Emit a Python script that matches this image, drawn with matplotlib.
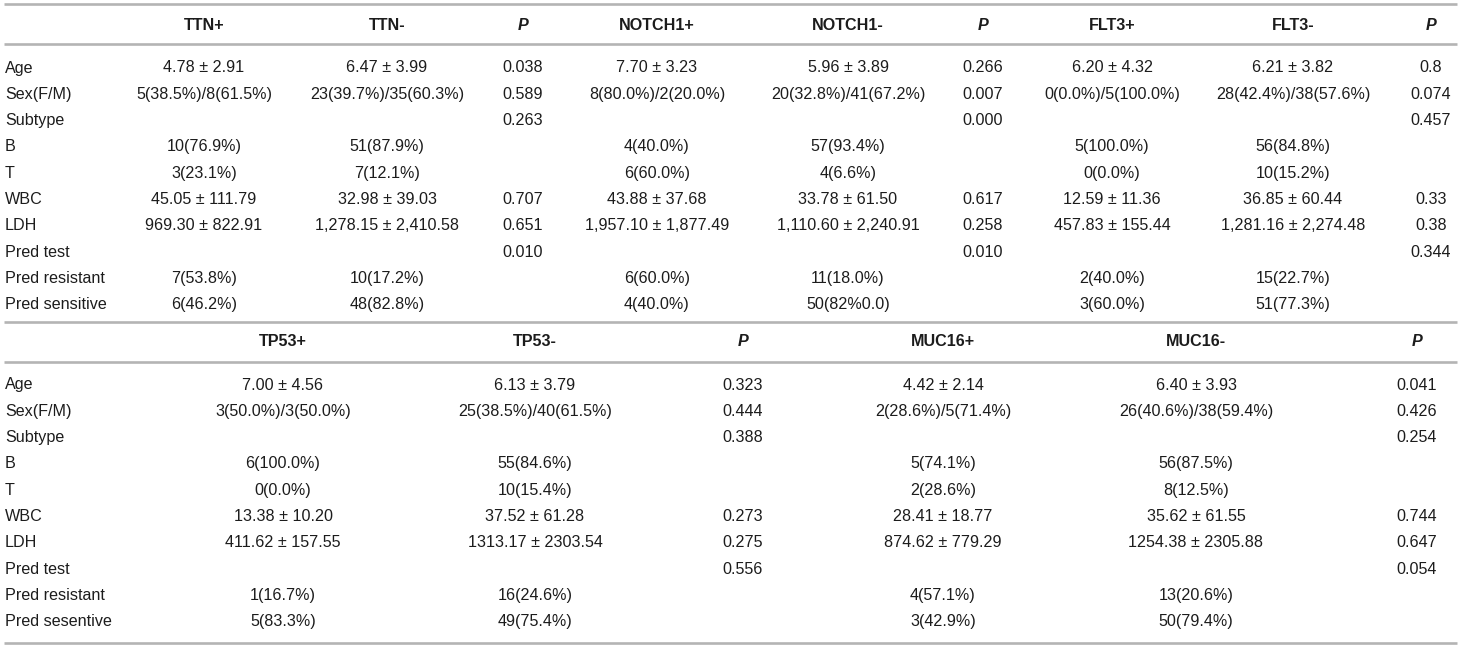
import matplotlib
matplotlib.use("Agg")
import matplotlib.pyplot as plt

# ---------------- data ----------------
row_labels_top = ["Age", "Sex(F/M)", "Subtype", "B", "T", "WBC", "LDH",
                  "Pred test", "Pred resistant", "Pred sensitive"]
row_labels_bottom = ["Age", "Sex(F/M)", "Subtype", "B", "T", "WBC", "LDH",
                     "Pred test", "Pred resistant", "Pred sesentive"]

headers_top = ["TTN+", "TTN-", "P", "NOTCH1+", "NOTCH1-", "P", "FLT3+", "FLT3-", "P"]
headers_bottom = ["TP53+", "TP53-", "P", "MUC16+", "MUC16-", "P"]

ttn_pos = ["4.78 ± 2.91", "5(38.5%)/8(61.5%)", "", "10(76.9%)", "3(23.1%)",
           "45.05 ± 111.79", "969.30 ± 822.91", "", "7(53.8%)", "6(46.2%)"]
ttn_neg = ["6.47 ± 3.99", "23(39.7%)/35(60.3%)", "", "51(87.9%)", "7(12.1%)",
           "32.98 ± 39.03", "1,278.15 ± 2,410.58", "", "10(17.2%)", "48(82.8%)"]
ttn_p = ["0.038", "0.589", "0.263", "", "", "0.707", "0.651", "0.010", "", ""]

notch1_pos = ["7.70 ± 3.23", "8(80.0%)/2(20.0%)", "", "4(40.0%)", "6(60.0%)",
              "43.88 ± 37.68", "1,957.10 ± 1,877.49", "", "6(60.0%)", "4(40.0%)"]
notch1_neg = ["5.96 ± 3.89", "20(32.8%)/41(67.2%)", "", "57(93.4%)", "4(6.6%)",
              "33.78 ± 61.50", "1,110.60 ± 2,240.91", "", "11(18.0%)", "50(82%0.0)"]
notch1_p = ["0.266", "0.007", "0.000", "", "", "0.617", "0.258", "0.010", "", ""]

flt3_pos = ["6.20 ± 4.32", "0(0.0%)/5(100.0%)", "", "5(100.0%)", "0(0.0%)",
            "12.59 ± 11.36", "457.83 ± 155.44", "", "2(40.0%)", "3(60.0%)"]
flt3_neg = ["6.21 ± 3.82", "28(42.4%)/38(57.6%)", "", "56(84.8%)", "10(15.2%)",
            "36.85 ± 60.44", "1,281.16 ± 2,274.48", "", "15(22.7%)", "51(77.3%)"]
flt3_p = ["0.8", "0.074", "0.457", "", "", "0.33", "0.38", "0.344", "", ""]

tp53_pos = ["7.00 ± 4.56", "3(50.0%)/3(50.0%)", "", "6(100.0%)", "0(0.0%)",
            "13.38 ± 10.20", "411.62 ± 157.55", "", "1(16.7%)", "5(83.3%)"]
tp53_neg = ["6.13 ± 3.79", "25(38.5%)/40(61.5%)", "", "55(84.6%)", "10(15.4%)",
            "37.52 ± 61.28", "1313.17 ± 2303.54", "", "16(24.6%)", "49(75.4%)"]
tp53_p = ["0.323", "0.444", "0.388", "", "", "0.273", "0.275", "0.556", "", ""]

muc16_pos = ["4.42 ± 2.14", "2(28.6%)/5(71.4%)", "", "5(74.1%)", "2(28.6%)",
             "28.41 ± 18.77", "874.62 ± 779.29", "", "4(57.1%)", "3(42.9%)"]
muc16_neg = ["6.40 ± 3.93", "26(40.6%)/38(59.4%)", "", "56(87.5%)", "8(12.5%)",
             "35.62 ± 61.55", "1254.38 ± 2305.88", "", "13(20.6%)", "50(79.4%)"]
muc16_p = ["0.041", "0.426", "0.254", "", "", "0.744", "0.647", "0.054", "", ""]

columns_top = [ttn_pos, ttn_neg, ttn_p, notch1_pos, notch1_neg, notch1_p,
               flt3_pos, flt3_neg, flt3_p]
columns_bottom = [tp53_pos, tp53_neg, tp53_p, muc16_pos, muc16_neg, muc16_p]

# ---------------- layout ----------------
W, H = 1461, 648
fig = plt.figure(figsize=(W / 100, H / 100), dpi=100)
ax = fig.add_axes([0, 0, 1, 1])
ax.set_xlim(0, W)
ax.set_ylim(H, 0)
ax.axis("off")

FONT = ["Liberation Sans", "DejaVu Sans"]
FS = 11.6
TXT = "#1c1c1c"
LINE = "#b4b4b4"

x_left, x_right = 4, 1457
label_x = 5
xs_top = [204, 387, 523, 657, 848, 983, 1112, 1293, 1431]
xs_bottom = [283, 535, 743, 943, 1196, 1417]


def hline(y):
    ax.plot([x_left, x_right], [y, y], color=LINE, lw=1.9, solid_capstyle="butt")


def draw_block(y_header, y_first, step, headers, xs, labels, columns):
    for h, x in zip(headers, xs):
        if h == "P":
            ax.text(x, y_header, h, ha="center", va="center", fontsize=FS,
                    fontweight="bold", fontstyle="italic", family=FONT, color=TXT)
        else:
            ax.text(x, y_header, h, ha="center", va="center", fontsize=FS,
                    fontweight="bold", family=FONT, color=TXT)
    for i, lab in enumerate(labels):
        y = y_first + i * step
        ax.text(label_x, y, lab, ha="left", va="center", fontsize=FS,
                family=FONT, color=TXT)
        for col, x in zip(columns, xs):
            if col[i]:
                ax.text(x, y, col[i], ha="center", va="center", fontsize=FS,
                        family=FONT, color=TXT)


hline(4)
hline(44)
draw_block(25, 68, 26.3, headers_top, xs_top, row_labels_top, columns_top)
hline(322)
hline(362)
draw_block(342, 385, 26.3, headers_bottom, xs_bottom, row_labels_bottom, columns_bottom)
hline(643)

fig.savefig("out.png", dpi=100, facecolor="white")
